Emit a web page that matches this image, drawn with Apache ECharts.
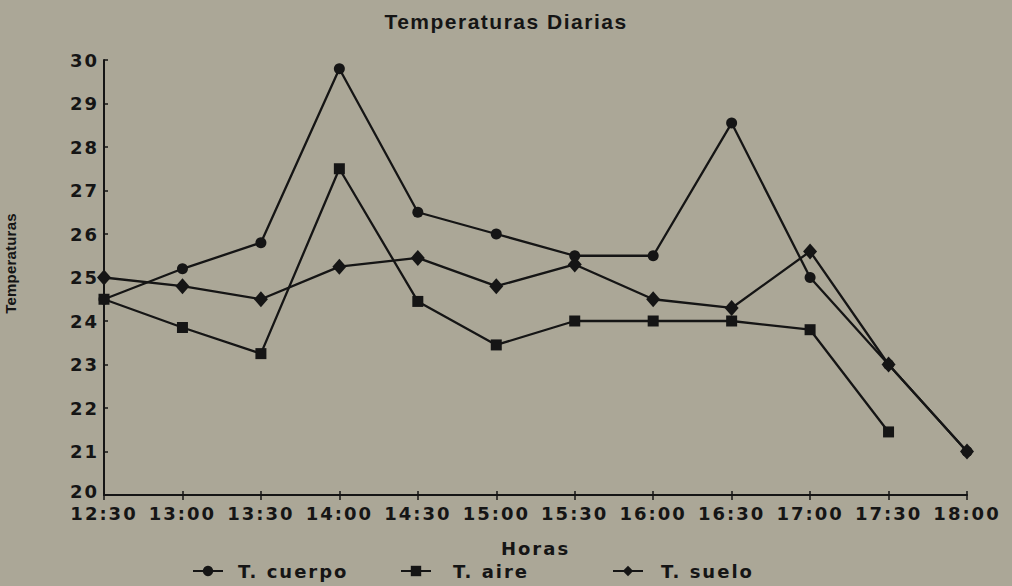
<!DOCTYPE html>
<html><head><meta charset="utf-8">
<script src="https://cdn.jsdelivr.net/npm/echarts@6/dist/echarts.min.js"></script>
<style>
html,body{margin:0;padding:0;background:#aba797}
#c{width:1012px;height:586px}
#c text{letter-spacing:2px}
#c text[style*="21px"]{letter-spacing:1.5px}
#c text[style*="15px"]{letter-spacing:0.2px}
</style>
</head><body><div id="c"></div>
<script>
const categories = ['12:30','13:00','13:30','14:00','14:30','15:00','15:30','16:00','16:30','17:00','17:30','18:00'];
const cuerpo = [24.5,25.2,25.8,29.8,26.5,26.0,25.5,25.5,28.55,25.0,23.0,21.0];
const aire   = [24.5,23.85,23.25,27.5,24.45,23.45,24.0,24.0,24.0,23.8,21.45,null];
const suelo  = [25.0,24.8,24.5,25.25,25.45,24.8,25.3,24.5,24.3,25.6,23.0,21.0];
const seriesNames = ['T. cuerpo','T. aire','T. suelo'];
const yMin = 20, yMax = 30, yStep = 1;

const ink = '#151515';
const font = '"DejaVu Sans", sans-serif';
const chart = echarts.init(document.getElementById('c'), null, {renderer:'svg'});
const legendBase = {
  top: 557, itemWidth: 30, itemHeight: 13, orient: 'horizontal',
  textStyle: {color: ink, fontFamily: font, fontSize: 18, fontWeight: 'bold'}
};
const yLabelStyle = {color: ink, fontFamily: font, fontSize: 18, fontWeight: 'bold', lineHeight: 14};
chart.setOption({
  backgroundColor: '#aba797',
  animation: false,
  title: {
    text: 'Temperaturas Diarias', left: 'center', top: 6,
    textStyle: {color: ink, fontFamily: '"Liberation Sans", Arial, sans-serif', fontSize: 21, fontWeight: 'bold'}
  },
  legend: [
    Object.assign({}, legendBase, {left: 187, data: [seriesNames[0]], textStyle: Object.assign({}, legendBase.textStyle, {padding:[0,0,0,10]})}),
    Object.assign({}, legendBase, {left: 395, data: [seriesNames[1]], textStyle: Object.assign({}, legendBase.textStyle, {padding:[0,0,0,17]})}),
    Object.assign({}, legendBase, {left: 607, data: [seriesNames[2]], textStyle: Object.assign({}, legendBase.textStyle, {padding:[0,0,0,13]})})
  ],
  grid: {left: 104, right: 45, top: 60, bottom: 91, containLabel: false, outerBoundsMode: 'none'},
  xAxis: [{
    type: 'category', data: categories, boundaryGap: false,
    name: 'Horas', nameLocation: 'middle', nameGap: 44,
    nameTextStyle: {color: ink, fontFamily: font, fontSize: 18, fontWeight: 'bold'},
    axisLine: {show: true, lineStyle: {color: ink, width: 2}},
    axisTick: {show: true, length: 5, lineStyle: {color: ink, width: 1.5}},
    axisLabel: {color: ink, fontFamily: font, fontSize: 18, fontWeight: 'bold', margin: 11, interval: 0, lineHeight: 15},
    splitLine: {show: false}
  },{
    type: 'category', data: categories, boundaryGap: false, position: 'bottom',
    axisLine: {show: false},
    axisTick: {show: true, inside: true, length: 4, lineStyle: {color: ink, width: 1.5}},
    axisLabel: {show: false}, splitLine: {show: false}
  }],
  yAxis: {
    type: 'value', min: yMin, max: yMax, interval: yStep,
    name: 'Temperaturas', nameLocation: 'middle', nameGap: 86, nameRotate: 90,
    nameTextStyle: {color: ink, fontFamily: '"Liberation Sans", Arial, sans-serif', fontSize: 15, fontWeight: 'bold', padding: [0,0,0,28]},
    axisLine: {show: true, lineStyle: {color: ink, width: 2}},
    axisTick: {show: true, inside: true, length: 4, lineStyle: {color: ink, width: 1.5}},
    axisLabel: Object.assign({}, yLabelStyle, {
      margin: 5,
      formatter: v => v === yMin ? '{low|' + v + '}' : '{n|' + v + '}',
      rich: {n: Object.assign({}, yLabelStyle), low: Object.assign({}, yLabelStyle, {padding: [0,0,7,0]})}
    }),
    splitLine: {show: false}
  },
  series: [
    {name: seriesNames[0], type: 'line', data: cuerpo, symbol: 'circle', symbolSize: 11,
     lineStyle: {color: ink, width: 2.3}, itemStyle: {color: ink}},
    {name: seriesNames[1], type: 'line', data: aire, symbol: 'rect', symbolSize: 11,
     lineStyle: {color: ink, width: 2.3}, itemStyle: {color: ink}},
    {name: seriesNames[2], type: 'line', data: suelo, symbol: 'diamond', symbolSize: [14,16],
     lineStyle: {color: ink, width: 2.3}, itemStyle: {color: ink}}
  ]
});
</script></body></html>
